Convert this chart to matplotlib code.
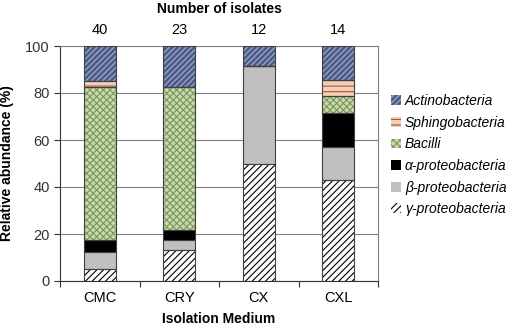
import matplotlib.pyplot as plt
import numpy as np
from matplotlib.patches import Patch

plt.rcParams['font.family'] = ['Liberation Sans', 'DejaVu Sans']
plt.rcParams['hatch.linewidth'] = 0.8

media = ["CMC", "CRY", "CX", "CXL"]
isolates = [40, 23, 12, 14]

# relative abundance (%) per group, bottom to top
gamma = [5.0, 13.0, 50.0, 42.9]
beta = [7.5, 4.3, 41.7, 14.3]
alpha = [5.0, 4.3, 0.0, 14.3]
bacilli = [65.0, 60.9, 0.0, 7.1]
sphingo = [2.5, 0.0, 0.0, 7.1]
actino = [15.0, 17.4, 8.3, 14.3]

series = [
    ("γ-proteobacteria", gamma, "white", "black", "/////"),
    ("β-proteobacteria", beta, "#c0c0c0", "#c0c0c0", None),
    ("α-proteobacteria", alpha, "black", "black", None),
    ("Bacilli", bacilli, "#c9d9a9", "#7a9660", "xxxxx"),
    ("Sphingobacteria", sphingo, "#f6cdb5", "#9a5a48", "---"),
    ("Actinobacteria", actino, "#4e5c8c", "#a8b0c8", "//////"),
]

fig = plt.figure(figsize=(5.09, 3.27), dpi=100)
ax = fig.add_axes([60 / 509, 46 / 327, 318 / 509, 235 / 327])

x = np.arange(len(media))
bottom = np.zeros(len(media))
handles = []
for name, vals, fc, hc, hatch in series:
    vals = np.array(vals)
    ax.bar(x, vals, 0.4, bottom=bottom, color=fc, edgecolor=hc, hatch=hatch,
           linewidth=0, zorder=3)
    ax.bar(x, vals, 0.4, bottom=bottom, fill=False, edgecolor="#404040",
           linewidth=0.8, zorder=4)
    bottom += vals
    handles.append(Patch(facecolor=fc, edgecolor=hc, hatch=hatch, linewidth=0, label=name))

ax.set_xlim(-0.5, 3.5)
ax.set_ylim(0, 100)
ax.set_yticks([0, 20, 40, 60, 80, 100])
ax.tick_params(axis='y', labelsize=10.5, length=4, direction='out', colors='#333333')
ax.set_xticks(np.arange(-0.5, 4, 1))
ax.set_xticklabels([])
ax.set_xticks(x, minor=True)
ax.set_xticklabels(media, minor=True, fontsize=10.5)
ax.tick_params(axis='x', which='minor', length=0, pad=7)
ax.tick_params(axis='x', which='major', length=4, colors='#333333')
ax.grid(axis='y', color='#808080', linewidth=0.8, zorder=0)
for side in ["top", "right"]:
    ax.spines[side].set_color("#808080")
for side in ["left", "bottom"]:
    ax.spines[side].set_color("#333333")

ax.set_ylabel("Relative abundance (%)", fontsize=10, fontweight='bold', labelpad=8)

for xi, n in zip(x, isolates):
    ax.text(xi, 104, str(n), ha='center', va='bottom', fontsize=10.5, clip_on=False)
fig.text(219 / 509, 1 - 9 / 327, "Number of isolates", ha='center', va='center',
         fontsize=10, fontweight='bold')
fig.text(219 / 509, 1 / 327, "Isolation Medium", ha='center', va='bottom',
         fontsize=10, fontweight='bold')

ax.legend(handles=handles[::-1], loc='upper left', bbox_to_anchor=(391 / 509, 1 - 94 / 327),
          bbox_transform=fig.transFigure, frameon=False, prop={'style': 'italic', 'size': 10},
          handlelength=0.7, handleheight=0.7, handletextpad=0.3, labelspacing=0.55,
          borderaxespad=0, borderpad=0)

fig.savefig("out.png", dpi=100)
